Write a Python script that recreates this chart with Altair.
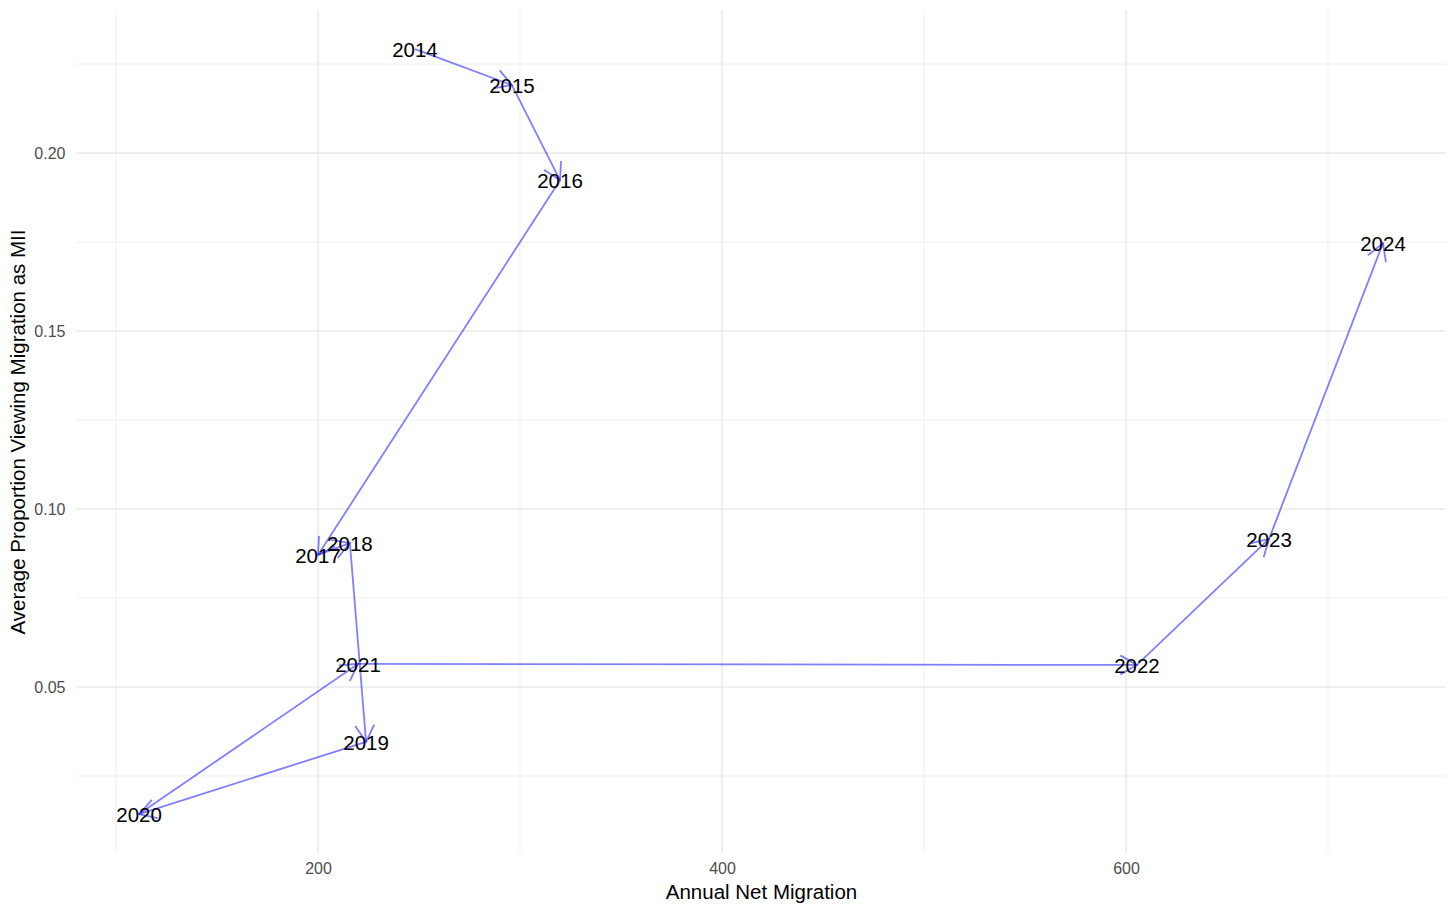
import math
import altair as alt
import pandas as pd

# ---- data ----
years = ["2014", "2015", "2016", "2017", "2018", "2019", "2020", "2021", "2022", "2023", "2024"]
net_migration = [248.0, 296.0, 319.8, 200.0, 215.8, 223.8, 111.4, 219.8, 605.4, 670.8, 727.2]
proportion_mii = [0.2292, 0.2191, 0.1924, 0.0871, 0.0904, 0.0346, 0.0143, 0.0565, 0.0562, 0.0916, 0.1747]

x_major = [200, 400, 600]
x_minor = [100, 300, 500, 700]
y_major = [0.05, 0.10, 0.15, 0.20]
y_minor = [0.025, 0.075, 0.125, 0.175, 0.225]

# ---- layout ----
W, H = 1370, 843
X_DOM = [80.2, 758.4]
Y_DOM = [0.00337, 0.2402]
sx = W / (X_DOM[1] - X_DOM[0])
sy = H / (Y_DOM[1] - Y_DOM[0])

pts = pd.DataFrame({"year": years, "x": net_migration, "y": proportion_mii})

seg_rows = []
for i in range(1, len(years)):
    x0, y0 = net_migration[i - 1], proportion_mii[i - 1]
    x1, y1 = net_migration[i], proportion_mii[i]
    dx = (x1 - x0) * sx
    dy = -(y1 - y0) * sy
    ang = math.degrees(math.atan2(dy, dx)) % 360
    seg_rows.append({"x": x0, "y": y0, "x_end": x1, "y_end": y1, "angle": ang})
segs = pd.DataFrame(seg_rows)

xs = alt.Scale(domain=X_DOM, nice=False, zero=False)
ys = alt.Scale(domain=Y_DOM, nice=False, zero=False)

GRID = "#ebebeb"

grid_xmin = alt.Chart(pd.DataFrame({"v": x_minor})).mark_rule(color=GRID, strokeWidth=0.8).encode(
    x=alt.X("v:Q", scale=xs))
grid_xmaj = alt.Chart(pd.DataFrame({"v": x_major})).mark_rule(color=GRID, strokeWidth=1.6).encode(
    x=alt.X("v:Q", scale=xs))
grid_ymin = alt.Chart(pd.DataFrame({"v": y_minor})).mark_rule(color=GRID, strokeWidth=0.8).encode(
    y=alt.Y("v:Q", scale=ys))
grid_ymaj = alt.Chart(pd.DataFrame({"v": y_major})).mark_rule(color=GRID, strokeWidth=1.6).encode(
    y=alt.Y("v:Q", scale=ys))

lines = alt.Chart(segs).mark_rule(color="blue", opacity=0.5, strokeWidth=1.8).encode(
    x=alt.X("x:Q", scale=xs,
            axis=alt.Axis(title="Annual Net Migration", values=x_major, grid=False, ticks=False,
                          domain=False, labelPadding=7, titlePadding=6)),
    y=alt.Y("y:Q", scale=ys,
            axis=alt.Axis(title="Average Proportion Viewing Migration as MII", values=y_major,
                          format=".2f", grid=False, ticks=False, domain=False,
                          labelPadding=11, titlePadding=5)),
    x2="x_end:Q",
    y2="y_end:Q",
)

heads = alt.Chart(segs).mark_point(
    shape="M -1 -0.57735 L 0 0 L -1 0.57735",
    filled=False, color="blue", opacity=0.5, strokeWidth=1.8, size=1100,
).encode(
    x=alt.X("x_end:Q", scale=xs),
    y=alt.Y("y_end:Q", scale=ys),
    angle=alt.Angle("angle:Q", scale=None),
)

labels = alt.Chart(pts).mark_text(
    fontSize=20.5, font="Liberation Sans", color="black", align="center", baseline="middle", dy=2
).encode(
    x=alt.X("x:Q", scale=xs),
    y=alt.Y("y:Q", scale=ys),
    text="year:N",
)

chart = alt.layer(grid_xmin, grid_xmaj, grid_ymin, grid_ymaj, lines, heads, labels).properties(
    width=W, height=H,
    autosize=alt.AutoSizeParams(type="none"),
    padding={"left": 68, "top": 2, "right": 2, "bottom": 52},
).configure_view(stroke=None).configure_axis(
    labelFont="Liberation Sans", labelFontSize=16, labelColor="#4d4d4d",
    titleFont="Liberation Sans", titleFontSize=20.5, titleColor="black", titleFontWeight="normal",
)

chart.save("out.html", embed_options={"renderer": "svg", "actions": False})
